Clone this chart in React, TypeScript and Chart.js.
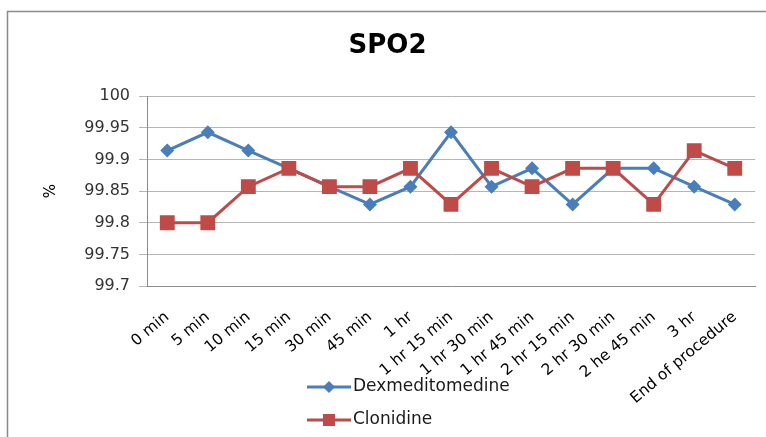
import React, { useEffect, useRef } from "react";
import { Chart, registerables } from "chart.js";

Chart.register(...registerables);

const categories = [
  "0 min", "5 min", "10 min", "15 min", "30 min", "45 min", "1 hr",
  "1 hr 15 min", "1 hr 30 min", "1 hr 45 min", "2 hr 15 min", "2 hr 30 min",
  "2 he 45 min", "3 hr", "End of procedure",
];
const dexValues = [99.914, 99.943, 99.914, 99.886, 99.857, 99.829, 99.857, 99.943, 99.857, 99.886, 99.829, 99.886, 99.886, 99.857, 99.829];
const cloValues = [99.8, 99.8, 99.857, 99.886, 99.857, 99.857, 99.886, 99.829, 99.886, 99.857, 99.886, 99.886, 99.829, 99.914, 99.886];
const seriesNames = ["Dexmeditomedine", "Clonidine"];
const chartTitle = "SPO2";
const yAxisTitle = "%";
const yMin = 99.7;
const yMax = 100;
const yStep = 0.05;

const BLUE = "#4a7ebb";
const RED = "#be4b48";

const framePlugin = {
  id: "frame",
  beforeDraw(chart: any) {
    const ctx = chart.ctx;
    ctx.save();
    ctx.fillStyle = "#ffffff";
    ctx.fillRect(0, 0, chart.width, chart.height);
    ctx.strokeStyle = "#8a8a8a";
    ctx.lineWidth = 1.5;
    ctx.beginPath();
    ctx.moveTo(7.5, chart.height);
    ctx.lineTo(7.5, 11.5);
    ctx.lineTo(chart.width, 11.5);
    ctx.stroke();
    ctx.restore();
  },
};

const legendPlugin = {
  id: "vlegend",
  afterDraw(chart: any) {
    const ctx = chart.ctx;
    const x0 = 307;
    const x1 = 351;
    const ys = [387, 420];
    ctx.save();
    chart.data.datasets.forEach((ds: any, i: number) => {
      const y = ys[i];
      ctx.strokeStyle = ds.borderColor;
      ctx.lineWidth = 3;
      ctx.beginPath();
      ctx.moveTo(x0, y);
      ctx.lineTo(x1, y);
      ctx.stroke();
      ctx.fillStyle = ds.backgroundColor;
      const cx = (x0 + x1) / 2;
      ctx.beginPath();
      if (ds.pointStyle === "rectRot") {
        const r = 6;
        ctx.moveTo(cx, y - r);
        ctx.lineTo(cx + r, y);
        ctx.lineTo(cx, y + r);
        ctx.lineTo(cx - r, y);
        ctx.closePath();
      } else {
        const s = 6;
        ctx.rect(cx - s, y - s, 2 * s, 2 * s);
      }
      ctx.fill();
      ctx.fillStyle = "#1a1a1a";
      ctx.font = "17px 'DejaVu Sans'";
      ctx.textBaseline = "middle";
      ctx.textAlign = "left";
      ctx.fillText(ds.label, x1 + 2, y);
    });
    ctx.restore();
  },
};

export default function App() {
  const ref = useRef<HTMLCanvasElement | null>(null);
  useEffect(() => {
    if (!ref.current) return;
    const chart = new Chart(ref.current, {
      type: "line",
      data: {
        labels: categories,
        datasets: [
          {
            label: seriesNames[0],
            data: dexValues,
            borderColor: BLUE,
            backgroundColor: BLUE,
            borderWidth: 3,
            pointStyle: "rectRot",
            pointRadius: 7,
            pointHoverRadius: 7,
            pointBorderWidth: 0,
            tension: 0,
            order: 2,
          },
          {
            label: seriesNames[1],
            data: cloValues,
            borderColor: RED,
            backgroundColor: RED,
            borderWidth: 3,
            pointStyle: "rect",
            pointRadius: 10.5,
            pointHoverRadius: 10.5,
            pointBorderWidth: 0,
            tension: 0,
            order: 1,
          },
        ],
      },
      options: {
        responsive: false,
        animation: false,
        events: [],
        layout: { padding: { left: 20, right: 11, top: 0, bottom: 0 } },
        plugins: {
          legend: { display: false },
          tooltip: { enabled: false },
          title: {
            display: true,
            text: chartTitle,
            color: "#000",
            font: { family: "'DejaVu Sans'", size: 26, weight: "bold", lineHeight: 1.2 },
            padding: { top: 31, bottom: 34 },
          },
        },
        scales: {
          x: {
            type: "category",
            offset: true,
            grid: { display: false, drawTicks: false },
            border: { display: true, color: "#8c8c8c", width: 1 },
            ticks: {
              autoSkip: false,
              maxRotation: 40,
              minRotation: 40,
              padding: 22,
              color: "#000",
              font: { family: "'DejaVu Sans'", size: 15.5 },
            },
            afterFit(scale: any) {
              scale.height = 151;
              scale.paddingLeft = 0;
              scale.paddingRight = 0;
            },
          },
          y: {
            min: yMin,
            max: yMax,
            ticks: {
              stepSize: yStep,
              padding: 9,
              color: "#333",
              font: { family: "'DejaVu Sans'", size: 16 },
              callback: (v: any) => String(Number(Number(v).toFixed(2))),
            },
            grid: { color: "#b5b5b5", lineWidth: 1, tickLength: 8, drawTicks: true },
            border: { display: true, color: "#8c8c8c", width: 1 },
            title: {
              display: true,
              text: yAxisTitle,
              color: "#000",
              font: { family: "'DejaVu Sans'", size: 15 },
              padding: { top: 22, bottom: 0 },
            },
            afterFit(scale: any) {
              scale.width = 127;
              scale.paddingTop = 0;
              scale.paddingBottom = 0;
            },
          },
        },
      },
      plugins: [framePlugin, legendPlugin],
    } as any);
    return () => chart.destroy();
  }, []);
  return (
    <div style={{ position: "absolute", left: 0, top: 0, width: 766, height: 437 }}>
      <canvas ref={ref} width={766} height={437} style={{ display: "block" }} />
    </div>
  );
}
